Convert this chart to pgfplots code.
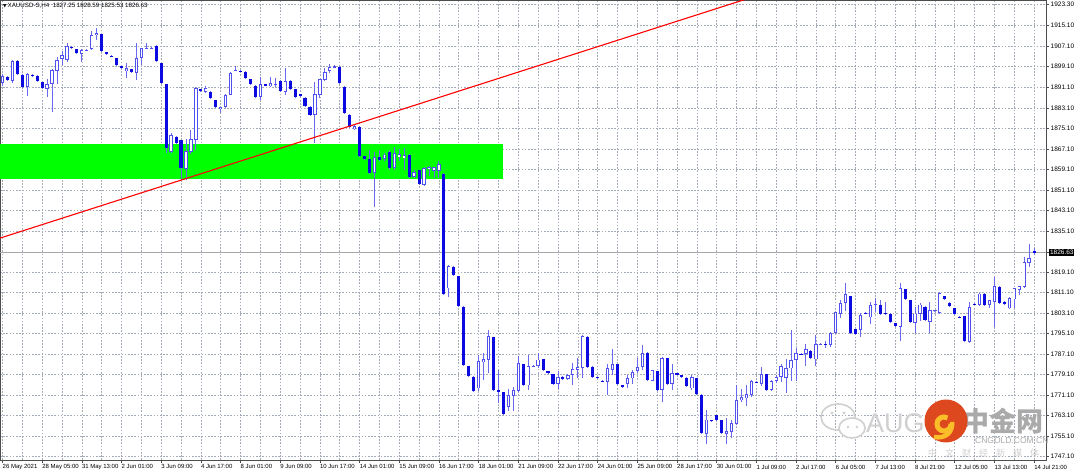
\documentclass[border=0pt]{standalone}
\usepackage{fontspec}
\setmainfont{Liberation Sans}
\newfontfamily\cjk{Noto Sans CJK SC}
\newfontfamily\dejavu{DejaVu Sans}
\usepackage{pgfplots}
\usepackage{pgfplotstable}
\pgfplotsset{compat=1.18}
\definecolor{bear}{RGB}{10,10,225}
\definecolor{bull}{RGB}{80,80,238}
\definecolor{wick}{RGB}{105,105,240}
\definecolor{gridc}{RGB}{165,172,185}
\definecolor{zone}{RGB}{0,255,0}
\definecolor{wm}{RGB}{208,208,208}
\definecolor{wmdark}{RGB}{170,170,170}
\definecolor{logored}{RGB}{222,72,30}
\definecolor{logoyel}{RGB}{250,190,40}

\pgfplotstableread{
i o h l c
0 1892.7 1896.3 1891.5 1895.5
1 1895.1 1895.5 1893.7 1894.1
2 1893.5 1901.7 1892.7 1901.3
3 1901.3 1901.7 1896.0 1896.2
4 1895.9 1896.2 1891.0 1891.2
5 1891.2 1896.5 1887.7 1896.2
6 1895.9 1896.1 1895.4 1895.6
7 1895.5 1895.7 1893.3 1893.5
8 1893.1 1893.3 1890.5 1890.8
9 1890.4 1894.3 1887.3 1892.3
10 1892.3 1898.1 1881.4 1897.8
11 1897.4 1902.9 1892.3 1901.7
12 1902.1 1905.2 1899.7 1903.6
13 1901.7 1908.3 1900.9 1907.2
14 1906.8 1907.0 1906.4 1906.6
15 1906.0 1906.2 1904.2 1904.4
16 1904.0 1905.9 1900.9 1905.6
17 1905.6 1906.0 1905.3 1905.8
18 1906.0 1913.0 1905.7 1911.4
19 1911.4 1914.2 1909.5 1912.2
20 1911.8 1912.0 1905.0 1905.2
21 1904.8 1905.0 1903.8 1904.0
22 1903.4 1903.6 1903.0 1903.2
23 1902.5 1902.7 1899.5 1899.7
24 1899.3 1899.5 1898.4 1898.6
25 1897.4 1900.5 1894.7 1898.6
26 1898.2 1898.4 1896.8 1897.0
27 1896.6 1908.3 1893.9 1902.5
28 1902.5 1906.6 1899.7 1906.4
29 1906.2 1908.3 1906.0 1906.4
30 1906.4 1906.8 1906.2 1906.6
31 1907.2 1907.4 1901.0 1901.3
32 1900.5 1900.7 1892.4 1892.7
33 1892.2 1892.4 1865.3 1867.3
34 1866.0 1873.2 1865.3 1872.4
35 1871.7 1872.0 1869.2 1869.4
36 1870.5 1870.7 1854.9 1859.6
37 1859.2 1870.9 1855.0 1866.2
38 1865.8 1874.4 1865.0 1870.9
39 1870.5 1891.2 1866.6 1890.8
40 1890.4 1890.6 1889.6 1889.8
41 1889.3 1891.6 1889.0 1890.8
42 1889.3 1889.5 1886.6 1886.8
43 1886.1 1886.3 1883.1 1883.3
44 1882.5 1883.6 1880.9 1883.3
45 1883.5 1888.4 1883.2 1888.1
46 1888.1 1897.0 1887.9 1896.7
47 1897.6 1899.4 1897.3 1897.8
48 1897.6 1897.8 1897.3 1897.5
49 1897.1 1897.3 1894.4 1894.6
50 1894.2 1894.4 1892.0 1892.2
51 1891.6 1891.8 1887.2 1887.4
52 1887.4 1895.2 1886.1 1892.2
53 1892.2 1892.4 1891.8 1892.0
54 1891.6 1895.2 1891.2 1892.6
55 1892.2 1894.7 1891.3 1892.4
56 1893.6 1893.8 1889.5 1889.7
57 1889.3 1898.5 1888.0 1893.6
58 1893.6 1893.8 1890.1 1890.3
59 1890.3 1890.5 1887.2 1887.4
60 1888.4 1888.6 1887.5 1887.7
61 1887.0 1887.2 1883.6 1883.8
62 1883.5 1883.7 1880.0 1880.2
63 1880.2 1893.2 1869.3 1888.4
64 1888.0 1894.5 1887.0 1894.2
65 1893.9 1898.6 1893.5 1897.1
66 1897.5 1900.1 1896.7 1899.1
67 1899.0 1899.8 1898.9 1899.4
68 1899.1 1899.3 1892.4 1892.6
69 1891.3 1891.5 1880.7 1880.9
70 1880.3 1880.5 1875.5 1875.7
71 1874.7 1876.7 1874.4 1875.9
72 1875.7 1876.0 1864.0 1864.3
73 1864.3 1864.5 1863.0 1863.2
74 1863.0 1866.6 1857.3 1857.7
75 1857.7 1866.0 1844.3 1863.8
76 1864.0 1866.5 1862.5 1862.7
77 1863.0 1865.3 1862.4 1864.9
78 1866.0 1866.8 1858.9 1859.8
79 1859.5 1868.0 1858.9 1865.6
80 1863.8 1867.2 1862.4 1865.1
81 1863.4 1867.6 1858.9 1864.7
82 1864.7 1864.9 1855.7 1856.0
83 1856.0 1859.0 1855.7 1858.2
84 1858.8 1859.0 1853.0 1853.3
85 1853.0 1860.2 1852.7 1859.5
86 1859.1 1860.5 1856.7 1860.1
87 1858.5 1860.2 1855.8 1859.9
88 1858.5 1862.4 1855.8 1861.1
89 1857.3 1857.5 1810.3 1810.7
90 1812.7 1821.7 1809.2 1821.4
91 1821.1 1821.3 1817.9 1818.1
92 1817.5 1817.7 1805.7 1805.9
93 1805.5 1805.7 1782.6 1782.8
94 1782.4 1782.6 1778.3 1778.5
95 1778.2 1778.4 1772.5 1772.7
96 1773.7 1786.7 1772.7 1784.3
97 1784.1 1787.5 1777.0 1785.0
98 1785.0 1796.6 1779.8 1794.1
99 1793.6 1793.8 1772.9 1773.1
100 1773.1 1780.8 1768.1 1772.4
101 1772.3 1772.5 1763.2 1763.6
102 1766.5 1773.6 1764.8 1771.1
103 1770.7 1774.4 1764.8 1773.1
104 1772.7 1786.3 1772.3 1783.6
105 1783.1 1783.3 1774.7 1774.9
106 1774.9 1786.7 1773.1 1782.4
107 1782.4 1782.8 1782.0 1782.6
108 1782.4 1787.7 1781.6 1785.0
109 1785.0 1785.2 1780.6 1780.8
110 1780.4 1780.6 1779.5 1779.7
111 1779.2 1779.4 1775.4 1775.6
112 1775.3 1780.4 1773.4 1778.2
113 1778.2 1778.4 1777.3 1777.5
114 1777.5 1779.5 1777.0 1779.0
115 1778.9 1783.6 1775.1 1781.1
116 1781.1 1785.6 1777.6 1782.1
117 1781.7 1794.6 1777.6 1794.1
118 1793.8 1794.0 1781.7 1781.9
119 1782.1 1782.3 1778.0 1778.2
120 1778.1 1778.3 1777.7 1777.9
121 1776.8 1777.0 1776.4 1776.6
122 1776.2 1783.1 1771.3 1781.5
123 1781.1 1789.2 1779.0 1783.4
124 1783.1 1783.3 1775.1 1775.3
125 1774.9 1775.1 1774.1 1774.3
126 1775.6 1779.0 1774.0 1777.6
127 1777.6 1781.0 1775.6 1780.1
128 1780.4 1785.6 1779.7 1782.1
129 1782.1 1790.8 1780.9 1787.6
130 1787.6 1787.8 1776.7 1776.9
131 1776.7 1781.0 1776.5 1780.8
132 1780.5 1780.7 1772.8 1773.0
133 1773.0 1785.9 1768.6 1785.4
134 1785.4 1785.6 1775.4 1775.6
135 1775.6 1783.1 1773.0 1779.8
136 1779.6 1779.8 1779.2 1779.4
137 1778.9 1779.1 1778.0 1778.2
138 1777.8 1778.0 1774.4 1774.6
139 1773.7 1779.0 1773.0 1778.2
140 1777.6 1777.8 1771.5 1771.7
141 1771.3 1771.5 1756.2 1756.4
142 1756.1 1765.5 1752.2 1761.6
143 1761.4 1761.6 1761.0 1761.2
144 1763.2 1763.4 1761.4 1761.6
145 1761.3 1761.5 1756.2 1756.4
146 1756.1 1762.2 1752.2 1757.1
147 1756.8 1761.6 1754.3 1760.1
148 1760.0 1774.9 1759.3 1769.1
149 1769.1 1773.3 1768.4 1770.4
150 1769.8 1774.9 1766.8 1771.7
151 1771.1 1777.1 1770.5 1776.6
152 1776.4 1776.6 1776.0 1776.2
153 1775.6 1781.9 1774.6 1779.2
154 1779.2 1779.4 1772.8 1773.0
155 1773.0 1776.9 1772.8 1776.6
156 1776.6 1779.0 1775.9 1778.2
157 1778.2 1783.3 1776.4 1782.4
158 1777.9 1785.0 1771.9 1781.5
159 1781.5 1796.6 1776.8 1784.7
160 1784.7 1789.3 1776.8 1787.5
161 1787.3 1787.5 1787.0 1787.1
162 1787.3 1791.2 1782.4 1788.9
163 1788.3 1788.5 1785.5 1785.7
164 1785.0 1794.6 1782.4 1791.0
165 1791.0 1791.4 1790.8 1791.2
166 1791.2 1792.3 1789.6 1791.0
167 1790.6 1795.8 1789.7 1795.3
168 1795.3 1803.6 1795.0 1803.5
169 1802.9 1808.3 1801.0 1807.1
170 1807.1 1814.7 1804.0 1810.5
171 1809.7 1809.9 1795.1 1795.3
172 1796.7 1796.9 1794.9 1795.1
173 1796.4 1803.2 1793.7 1802.3
174 1803.2 1803.4 1802.9 1803.0
175 1801.4 1807.5 1799.0 1806.2
176 1806.5 1808.8 1803.6 1806.7
177 1806.2 1808.0 1802.6 1802.9
178 1803.2 1807.5 1802.6 1802.8
179 1802.9 1803.1 1799.4 1799.6
180 1799.2 1799.4 1797.7 1797.9
181 1797.7 1814.7 1792.3 1812.7
182 1812.3 1812.5 1808.2 1808.4
183 1808.1 1808.3 1799.4 1799.6
184 1799.2 1805.3 1795.3 1802.9
185 1802.6 1807.2 1800.0 1806.4
186 1805.5 1805.7 1800.1 1800.3
187 1799.6 1807.5 1795.3 1804.2
188 1804.0 1804.4 1803.6 1804.2
189 1803.1 1811.4 1802.8 1810.9
190 1809.7 1809.9 1808.2 1808.4
191 1807.1 1807.3 1805.6 1805.8
192 1804.9 1805.1 1802.4 1802.6
193 1801.7 1801.9 1801.3 1801.5
194 1801.9 1802.1 1792.0 1792.2
195 1791.8 1807.5 1791.3 1805.5
196 1806.7 1807.0 1806.4 1806.6
197 1806.2 1811.0 1805.9 1810.7
198 1810.7 1810.9 1806.0 1806.2
199 1806.2 1808.3 1805.0 1808.1
200 1807.5 1817.2 1797.7 1813.6
201 1813.3 1813.5 1806.9 1807.1
202 1807.5 1807.7 1806.6 1806.8
203 1804.9 1809.2 1804.5 1808.8
204 1808.4 1812.9 1805.0 1812.7
205 1812.0 1813.8 1810.0 1813.6
206 1813.3 1825.0 1813.0 1823.1
207 1822.6 1830.0 1821.0 1824.6
208 1827.25 1828.59 1825.53 1826.63
}\candles

\begin{document}
\begin{tikzpicture}
\useasboundingbox (0pt,-13pt) rectangle (1080pt,460pt);
\fill[white] (0pt,-13pt) rectangle (1080pt,460pt);
\begin{axis}[
  at={(0pt,0pt)}, anchor=south west,
  scale only axis, width=1046pt, height=460pt,
  xmin=-0.5, xmax=210.4, ymin=1745.82, ymax=1925.12,
  axis line style={draw=black!70, line width=0.7pt},
  xtick={0,8,...,208},
  xticklabels={26 May 2021,28 May 05:00,31 May 13:00,2 Jun 01:00,3 Jun 09:00,4 Jun 17:00,8 Jun 01:00,9 Jun 09:00,10 Jun 17:00,14 Jun 01:00,15 Jun 09:00,16 Jun 17:00,18 Jun 01:00,21 Jun 09:00,22 Jun 17:00,24 Jun 01:00,25 Jun 09:00,28 Jun 17:00,30 Jun 01:00,1 Jul 09:00,2 Jul 17:00,6 Jul 05:00,7 Jul 13:00,8 Jul 21:00,12 Jul 05:00,13 Jul 13:00,14 Jul 21:00},
  minor xtick={4,12,...,204},
  ytick={1747.1,1755.1,1763.1,1771.1,1779.1,1787.1,1795.1,1803.1,1811.1,1819.1,1835.1,1843.1,1851.1,1859.1,1867.1,1875.1,1883.1,1891.1,1899.1,1907.1,1915.1,1923.3},
  yticklabels={1747.10,1755.10,1763.10,1771.10,1779.10,1787.10,1795.10,1803.10,1811.10,1819.10,1835.10,1843.10,1851.10,1859.10,1867.10,1875.10,1883.10,1891.10,1899.10,1907.10,1915.10,1923.30},
  extra y ticks={1826.63}, extra y tick labels={1826.63},
  extra y tick style={yticklabel style={fill=black, text=white, inner sep=0.9pt}, major grid style={solid, draw=black!35, line width=0.6pt}},
  xtick pos=bottom, ytick pos=right, yticklabel pos=right,
  tick align=outside, major tick length=3pt, minor tick length=0pt,
  tick style={draw=black!70, line width=0.5pt},
  x tick label style={font=\fontsize{6}{7}\selectfont, anchor=north west, inner xsep=0pt, inner ysep=1.5pt},
  y tick label style={font=\fontsize{6.5}{7}\selectfont, anchor=west, inner xsep=1.5pt},
  grid=both,
  major grid style={dash pattern=on 1.6pt off 1.6pt, draw=gridc, line width=0.55pt},
  minor grid style={dash pattern=on 1.6pt off 1.6pt, draw=gridc, line width=0.55pt},
]
% support zone
\addplot[draw=none, fill=zone, forget plot] coordinates {(-1,1855.2) (100.9,1855.2) (100.9,1868.8) (-1,1868.8)} -- cycle;
% wicks
\addplot[draw=none, mark=none, forget plot,
  error bars/.cd, y dir=both, y explicit, error mark=none,
  error bar style={draw=wick, line width=0.9pt, solid}]
  table[x=i, y=c, y error plus expr=\thisrow{h}-\thisrow{c}, y error minus expr=\thisrow{c}-\thisrow{l}]{\candles};
% bear bodies
\addplot[draw=none, mark=none, forget plot,
  error bars/.cd, y dir=both, y explicit, error mark=none,
  error bar style={draw=bear, line width=3.1pt, solid}]
  table[x=i, y expr=(\thisrow{o}+\thisrow{c})/2, y error expr={max(\thisrow{o}-\thisrow{c},0)/2}]{\candles};
% bull bodies outline
\addplot[draw=none, mark=none, forget plot,
  error bars/.cd, y dir=both, y explicit, error mark=none,
  error bar style={draw=bull, line width=3.3pt, solid}]
  table[x=i, y expr=(\thisrow{o}+\thisrow{c})/2, y error expr={max(\thisrow{c}-\thisrow{o},0)/2}]{\candles};
% bull bodies inner
\addplot[draw=none, mark=none, forget plot,
  error bars/.cd, y dir=both, y explicit, error mark=none,
  error bar style={draw=white, line width=1.5pt, solid}]
  table[x=i, y expr=(\thisrow{o}+\thisrow{c})/2, y error expr={max((\thisrow{c}-\thisrow{o})/2-0.35,0)}]{\candles};
% trend line
\addplot[red, line width=1.1pt, forget plot] coordinates {(-0.5,1832.3) (160,1931.7)};
\end{axis}
% title
\node[anchor=west, inner sep=0pt, font=\fontsize{6.2}{7}\selectfont] at (3pt,454.5pt) {{\dejavu\fontsize{4.5}{5}\selectfont ▼}\,XAUUSD-S,H4\; 1827.25 1828.59 1825.53 1826.63};
% watermark
\begin{scope}[shift={(0pt,460pt)}, yscale=-1, x=1pt, y=1pt]
  \draw[wm, line width=1.6pt] (838,417) ellipse (17 and 13);
  \filldraw[draw=wm, fill=white, line width=1.6pt] (852,428) ellipse (13 and 10);
  \fill[wm] (832,413) circle (1.6) (844,413) circle (1.6) (848,427) circle (1.3) (857,427) circle (1.3);
  \node[anchor=west, text=wm, font=\fontsize{27}{27}\selectfont, inner sep=0pt] at (866,423) {AUG};
  \node[anchor=west, text=wmdark, font=\cjk\bfseries\fontsize{27}{27}\selectfont, inner sep=0pt] at (962,421) {中金网};
  \fill[logored] (946,421) circle (21.5);
  \draw[logoyel, line width=5pt] (951,424) arc (0:300:7);
  \draw[logoyel, line width=4.5pt] (952,422) .. controls (953,432) and (946,439) .. (934,437);
  \node[anchor=west, text=wmdark, font=\fontsize{8.5}{9}\selectfont, inner sep=0pt] at (975,441) {CNGOLD.COM.CN};
  \node[anchor=west, text=wm, font=\cjk\fontsize{9}{9}\selectfont, inner sep=0pt] at (928,453) {中\hspace{8pt}文\hspace{8pt}财\hspace{8pt}经\hspace{8pt}新\hspace{8pt}媒\hspace{8pt}体};
\end{scope}
\end{tikzpicture}
\end{document}
